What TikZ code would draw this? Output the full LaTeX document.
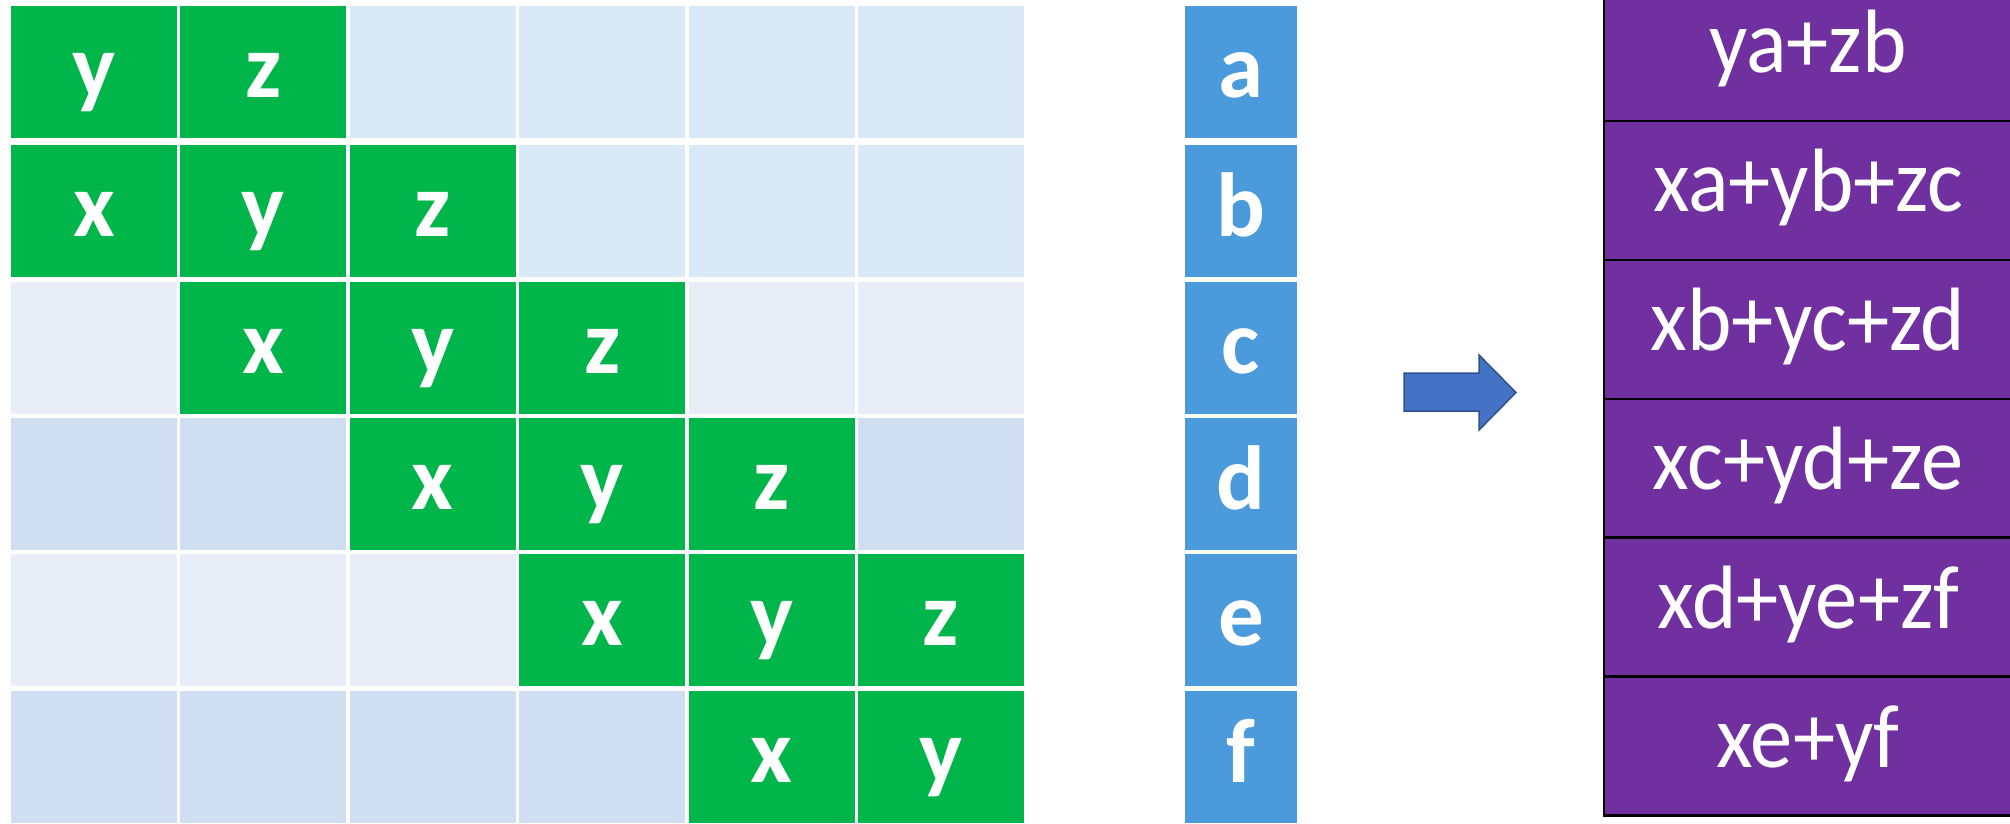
\documentclass[tikz,border=0pt]{standalone}
\usepackage{fontspec}
\setmainfont{Carlito}
\newfontfamily\SumFont[FakeStretch=0.94]{Carlito}
\usepackage{xcolor}
\usetikzlibrary{positioning}
\definecolor{BandGreen}{HTML}{00B64A}
\definecolor{PaleTop}{HTML}{DAE9F8}
\definecolor{PaleLight}{HTML}{E8EEF8}
\definecolor{PaleDark}{HTML}{CFDEF0}
\definecolor{VecBlue}{HTML}{4A9ADC}
\definecolor{SumPurple}{HTML}{7030A0}
\definecolor{ArrowBlue}{HTML}{4472C4}
\definecolor{ArrowEdge}{HTML}{2F528F}
\tikzset{
  cell/.style={minimum width=166pt, minimum height=132pt, inner sep=0pt, text=white,
    font=\bfseries\fontsize{91pt}{100pt}\selectfont, text height=51pt, text depth=0pt},
  bandcell/.style={cell, fill=BandGreen},
  veccell/.style={cell, fill=VecBlue, minimum width=112pt},
  sumbox/.style={draw=black, line width=2.5pt, fill=SumPurple, minimum width=408pt,
    minimum height=139pt, inner sep=0pt, text=white,
    font=\SumFont\fontsize{90pt}{100pt}\selectfont, text height=42pt, text depth=0pt},
  blockarrow/.style={fill=ArrowBlue, draw=ArrowEdge, line width=1.5pt, line join=miter}
}
\begin{document}
\begin{tikzpicture}[x=1pt, y=-1pt]
  \useasboundingbox (0,0) rectangle (2010,823);
  \clip (0,0) rectangle (2010,823);
  % banded matrix: x,y,z on the three diagonals, pale blue elsewhere
  \foreach \r/\y/\shade in {1/71.5/PaleTop, 2/211.2/PaleTop, 3/347.6/PaleLight,
                            4/484/PaleDark, 5/620.4/PaleLight, 6/756.8/PaleDark}{
    \foreach \c in {1,...,6}{
      \pgfmathtruncatemacro\d{\c-\r}
      \pgfmathsetmacro\cx{94+169.4*(\c-1)}
      \ifnum\d<-1
        \node[cell, fill=\shade] (m\r\c) at (\cx,\y) {};
      \else\ifnum\d>1
        \node[cell, fill=\shade] (m\r\c) at (\cx,\y) {};
      \else
        \node[bandcell] (m\r\c) at (\cx,\y) {\ifcase\numexpr\d+1\relax x\or y\or z\fi};
      \fi\fi
    }
  }
  % the vector
  \foreach \y/\l in {71.5/a, 211.2/b, 347.6/c, 484/d, 620.4/e, 756.8/f}
    \node[veccell] (v\l) at (1241,\y) {\l};
  % block arrow
  \draw[blockarrow] (1404,373) -- (1479,373) -- (1479,355) -- (1516,392.5)
    -- (1479,430) -- (1479,411) -- (1404,411) -- cycle;
  % result column
  \foreach \i/\s in {1/ya+zb, 2/xa+yb+zc, 3/xb+yc+zd, 4/xc+yd+ze, 5/xd+ye+zf, 6/xe+yf}
    \node[sumbox] (s\i) at (1808,{51.6+138.9*(\i-1)}) {\s};
\end{tikzpicture}
\end{document}
